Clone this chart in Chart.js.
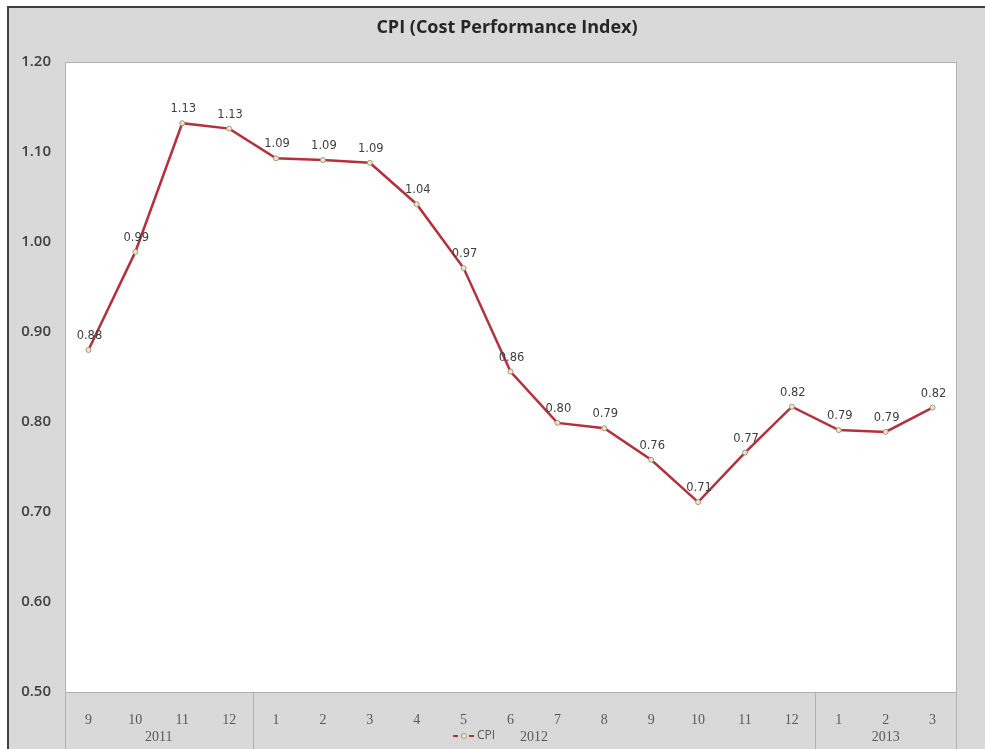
<!DOCTYPE html>
<html lang="en">
<head>
    <meta charset="UTF-8">
    <title>CPI (Cost Performance Index)</title>
    <script src="https://cdn.jsdelivr.net/npm/chart.js"></script>
    <style>
        body { margin: 0; background: #fff; }
        canvas { display: block; }
    </style>
</head>
<body>
    <canvas id="myChart" width="985" height="749"></canvas>

    <script>
        // months shown along the axis, one entry per data point
        const months = ['9', '10', '11', '12', '1', '2', '3', '4', '5', '6', '7', '8', '9', '10', '11', '12', '1', '2', '3'];
        // year groups: label + number of months in it
        const years = ['2011', '2012', '2013'];
        const yearCounts = [4, 12, 3];
        const cpiValues = [0.880, 0.989, 1.132, 1.126, 1.093, 1.091, 1.088, 1.042, 0.971, 0.856,
                           0.799, 0.793, 0.758, 0.711, 0.766, 0.817, 0.791, 0.789, 0.816];
        const yTicks = [0.5, 0.6, 0.7, 0.8, 0.9, 1.0, 1.1, 1.2];
        const titleText = 'CPI (Cost Performance Index)';

        const lineColor = '#b5303a';

        const frame = {
            id: 'frame',
            beforeDraw(chart) {
                const ctx = chart.ctx;
                const a = chart.chartArea;
                ctx.save();
                ctx.fillStyle = '#ffffff';
                ctx.fillRect(0, 0, chart.width, chart.height);
                ctx.fillStyle = '#d9d9d9';
                ctx.fillRect(8, 7, chart.width - 8, chart.height - 7);
                ctx.strokeStyle = '#404040';
                ctx.lineWidth = 2;
                ctx.beginPath();
                ctx.moveTo(8, chart.height);
                ctx.lineTo(8, 7);
                ctx.lineTo(chart.width, 7);
                ctx.stroke();
                ctx.fillStyle = '#ffffff';
                ctx.fillRect(a.left, a.top, a.right - a.left, a.bottom - a.top);
                ctx.strokeStyle = '#b0b0b0';
                ctx.lineWidth = 1;
                ctx.strokeRect(a.left + 0.5, a.top + 0.5, a.right - a.left, a.bottom - a.top);

                // title
                ctx.fillStyle = '#262626';
                ctx.font = 'bold 18px "Open Sans"';
                ctx.textAlign = 'center';
                ctx.textBaseline = 'middle';
                ctx.fillText(titleText, 507, 28);
                ctx.restore();
            },
            afterDraw(chart) {
                const ctx = chart.ctx;
                const a = chart.chartArea;
                const step = (a.right - a.left) / months.length;
                ctx.save();

                // group separators and year labels
                ctx.strokeStyle = '#b0b0b0';
                ctx.lineWidth = 1;
                ctx.fillStyle = '#595959';
                ctx.font = '14px "Liberation Serif"';
                ctx.textAlign = 'center';
                ctx.textBaseline = 'middle';
                let start = 0;
                const edges = [a.left];
                years.forEach((y, i) => {
                    const x0 = a.left + start * step;
                    const x1 = a.left + (start + yearCounts[i]) * step;
                    edges.push(x1);
                    ctx.fillText(y, (x0 + x1) / 2, 737);
                    start += yearCounts[i];
                });
                edges.forEach(x => {
                    ctx.beginPath();
                    ctx.moveTo(Math.round(x) + 0.5, a.bottom);
                    ctx.lineTo(Math.round(x) + 0.5, chart.height);
                    ctx.stroke();
                });

                // data labels
                const meta = chart.getDatasetMeta(0);
                ctx.fillStyle = '#404040';
                ctx.font = '11.5px "DejaVu Sans"';
                meta.data.forEach((pt, i) => {
                    ctx.fillText(cpiValues[i].toFixed(2), pt.x + 1, pt.y - 14);
                });

                // legend
                const lx = 453, ly = 736;
                ctx.strokeStyle = lineColor;
                ctx.lineWidth = 2;
                ctx.setLineDash([5, 3]);
                ctx.beginPath();
                ctx.moveTo(lx, ly);
                ctx.lineTo(lx + 22, ly);
                ctx.stroke();
                ctx.setLineDash([]);
                ctx.fillStyle = '#efe6c4';
                ctx.strokeStyle = '#a09a80';
                ctx.lineWidth = 1;
                ctx.beginPath();
                ctx.arc(lx + 11, ly, 2.5, 0, Math.PI * 2);
                ctx.fill();
                ctx.stroke();
                ctx.fillStyle = '#595959';
                ctx.font = '12px "Open Sans"';
                ctx.textAlign = 'left';
                ctx.fillText('CPI', lx + 24, ly);
                ctx.restore();
            }
        };

        const ctx = document.getElementById('myChart').getContext('2d');
        new Chart(ctx, {
            type: 'line',
            data: {
                labels: months,
                datasets: [{
                    label: 'CPI',
                    data: cpiValues,
                    borderColor: lineColor,
                    borderWidth: 2.5,
                    backgroundColor: '#efe6c4',
                    pointRadius: 2.5,
                    pointBorderColor: '#a09a80',
                    pointBorderWidth: 1,
                    pointBackgroundColor: '#efe6c4',
                    tension: 0,
                    fill: false
                }]
            },
            options: {
                responsive: false,
                animation: false,
                layout: { padding: { left: 0, right: 29, top: 62, bottom: 0 } },
                scales: {
                    x: {
                        offset: true,
                        grid: { display: false },
                        border: { display: false },
                        ticks: {
                            color: '#595959',
                            font: { family: 'Liberation Serif', size: 14 },
                            padding: 12,
                            maxRotation: 0,
                            autoSkip: false
                        },
                        afterFit(scale) { scale.height = 57; }
                    },
                    y: {
                        min: 0.5,
                        max: 1.2,
                        afterBuildTicks(scale) { scale.ticks = yTicks.map(v => ({ value: v })); },
                        grid: { display: false },
                        border: { display: false },
                        ticks: {
                            color: '#404040',
                            font: { family: 'Open Sans', size: 15, weight: '600' },
                            padding: 6,
                            callback: v => Number(v).toFixed(2)
                        },
                        afterFit(scale) { scale.width = 65; }
                    }
                },
                plugins: {
                    legend: { display: false },
                    tooltip: { enabled: false },
                    title: { display: false }
                }
            },
            plugins: [frame]
        });
    </script>
</body>
</html>
